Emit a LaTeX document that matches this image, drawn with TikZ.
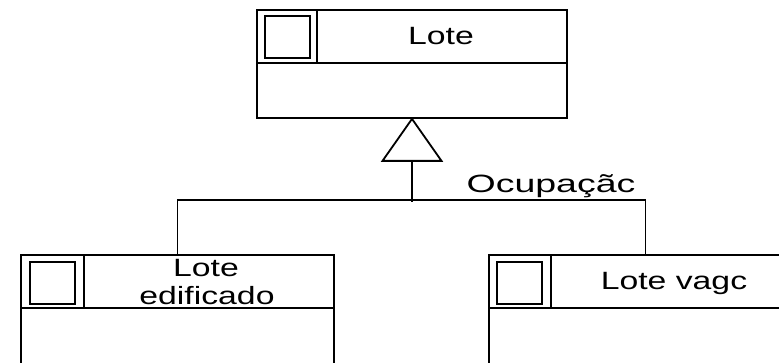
\documentclass[tikz,border=0pt]{standalone}
\usepackage{fontspec}
\setmainfont{Liberation Sans}
\usetikzlibrary{calc}
\newcommand\widetxt[2][1.35]{\scalebox{#1}[1]{#2}}
\begin{document}
\begin{tikzpicture}[x=1pt,y=-1pt, line width=1.8pt,
  classbox/.style={draw, rectangle, inner sep=0pt},
  icon/.style={draw, rectangle, inner sep=0pt, minimum width=45pt, minimum height=42pt, line width=2pt},
  lbl/.style={font=\fontsize{25}{28}\selectfont, inner sep=0pt, anchor=base}]
\useasboundingbox (0,0) rectangle (779,363);
\clip (0,0) rectangle (779,363);
% classes
\node[classbox, minimum width=310pt, minimum height=108pt] (lote) at (412,64) {};
\node[classbox, minimum width=313pt, minimum height=160pt] (edif) at (177.5,335) {};
\node[classbox, minimum width=313pt, minimum height=160pt] (vago) at (645.5,335) {};
% compartments
\foreach \c/\d in {lote/61, edif/64, vago/63}{
  \draw ($(\c.north west)+(0,54)$) -- ($(\c.north east)+(0,54)$);
  \draw ($(\c.north west)+(\d,0)$) -- ++(0,54);
}
\node[icon] (iconA) at ($(lote.north west)+(31.5,28)$) {};
\node[icon] (iconB) at ($(edif.north west)+(32.5,28.5)$) {};
\node[icon] (iconC) at ($(vago.north west)+(31.5,28.5)$) {};
% labels
\node[lbl] (tA) at (441,45) {\widetxt{Lote}};
\node[lbl] (tB1) at (206,277) {\widetxt{Lote}};
\node[lbl] (tB2) at (207,305) {\widetxt{edificado}};
\node[lbl] (tC) at (674,290) {\widetxt{Lote vagc}};
\node[lbl] (tD) at (551,193) {\widetxt[1.5]{Ocupaçãc}};
% generalization
\coordinate (tb) at ($(lote.south)+(0,42)$);
\draw[line join=miter] (lote.south) -- ($(tb)+(-29.5,0)$) -- ($(tb)+(29.5,0)$) -- cycle;
\coordinate (jn) at ($(lote.south)+(0,83)$);
\draw (tb) -- (jn);
\draw (edif.north) -- ++(0,-54) -| (vago.north);
\end{tikzpicture}
\end{document}
